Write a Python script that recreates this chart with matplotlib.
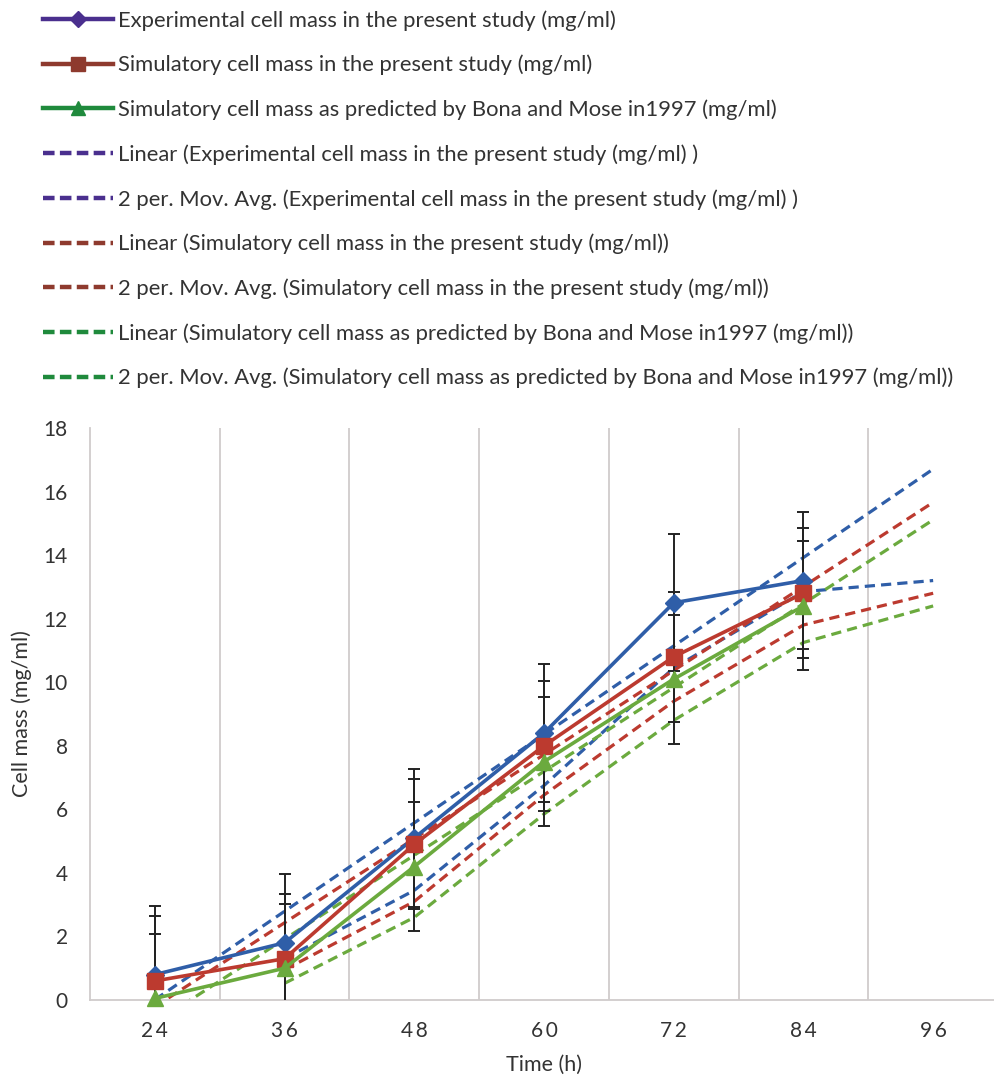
"""Cell mass over time: experiment vs. simulations, with Excel-style trendlines."""

import matplotlib

matplotlib.use("Agg")
import matplotlib.pyplot as plt
import numpy as np
from matplotlib.lines import Line2D

plt.rcParams["font.family"] = ["Lato", "DejaVu Sans"]

hours = ["24", "36", "48", "60", "72", "84", "96"]

# measured / simulated points (no value at 96 h)
experimental = [0.8, 1.8, 5.1, 8.4, 12.5, 13.2]
simulatory = [0.6, 1.3, 4.9, 8.0, 10.8, 12.8]
bona_mose = [0.05, 1.0, 4.2, 7.5, 10.1, 12.4]

# standard-error bars, one value per series
err_experimental = 2.16
err_simulatory = 2.04
err_bona_mose = 2.03

labels = [
    "Experimental cell mass in the present study (mg/ml)",
    "Simulatory cell mass in the present study (mg/ml)",
    "Simulatory cell mass as predicted by Bona and Mose in1997 (mg/ml)",
]

PLOT_COLORS = ["#2F5EA8", "#BC3A2F", "#6BAA3E"]
LEGEND_COLORS = ["#4A2F8E", "#8E3A2E", "#1F8A3C"]
MARKERS = ["D", "s", "^"]
MARKER_SIZES = [9.5, 11.5, 11.5]
GRID_COLOR = "#D0CCCC"
TEXT_COLOR = "#333333"


def moving_average_2(values, n_cats):
    """Excel 2-period moving average; the blank last category averages to the last point."""
    padded = list(values) + [np.nan] * (n_cats - len(values))
    out = []
    for i in range(1, n_cats):
        out.append(np.nanmean([padded[i - 1], padded[i]]))
    return np.arange(1, n_cats), np.array(out)


fig = plt.figure(figsize=(9.95, 10.78), dpi=100)
W, H = 995, 1078
ax = fig.add_axes([90 / W, (H - 1000) / H, 908 / W, 572 / H])

n_cats = len(hours)
x_all = np.arange(n_cats)
series = [
    (experimental, err_experimental),
    (simulatory, err_simulatory),
    (bona_mose, err_bona_mose),
]

dash = (3.2, 1.9)
for (vals, err), color in zip(series, PLOT_COLORS):
    x = np.arange(len(vals))
    slope, intercept = np.polyfit(x, vals, 1)
    ax.plot(x_all, slope * x_all + intercept, color=color, lw=2.3,
            dashes=dash, zorder=2)
    mx, my = moving_average_2(vals, n_cats)
    ax.plot(mx, my, color=color, lw=2.3, dashes=dash, zorder=2)

for (vals, err), color, mk, ms in zip(series, PLOT_COLORS, MARKERS, MARKER_SIZES):
    x = np.arange(len(vals))
    ax.errorbar(x, vals, yerr=err, fmt="none", ecolor="#222222", elinewidth=1.4,
                capsize=4.5, capthick=1.4, zorder=3)
    ax.plot(x, vals, color=color, lw=2.6, marker=mk, ms=ms, zorder=4, clip_on=False)

ax.set_xlim(-0.5, n_cats - 0.5)
ax.set_ylim(0, 18)
ax.set_yticks(np.arange(0, 19, 2))
ax.set_xticks(x_all)
ax.set_xticklabels(["\u2009".join(h) for h in hours])
ax.set_xticks(np.arange(0.5, n_cats - 0.5), minor=True)
ax.grid(True, axis="x", which="minor", color=GRID_COLOR, lw=1.3)
ax.tick_params(axis="both", which="both", length=0, labelsize=15, colors=TEXT_COLOR)
ax.tick_params(axis="x", pad=15)
ax.tick_params(axis="y", pad=16)
for side in ("top", "right"):
    ax.spines[side].set_visible(False)
for side in ("left", "bottom"):
    ax.spines[side].set_color(GRID_COLOR)
    ax.spines[side].set_linewidth(1.3)

ax.set_xlabel("Time (h)", fontsize=15.5, color=TEXT_COLOR, labelpad=10)
ax.set_ylabel("Cell mass (mg/ml)", fontsize=15.5, color=TEXT_COLOR, labelpad=8)

# legend (drawn with its own darker colours, as in the original figure)
handles = []
legend_labels = []
for color, mk, ms, lab in zip(LEGEND_COLORS, MARKERS, MARKER_SIZES, labels):
    handles.append(Line2D([], [], color=color, lw=3.2, marker=mk, ms=ms - 1))
    legend_labels.append(lab)
for color, lab in zip(LEGEND_COLORS, labels):
    close = " )" if color == LEGEND_COLORS[0] else ")"
    for prefix in ("Linear (", "2 per. Mov. Avg. ("):
        handles.append(Line2D([], [], color=color, lw=3.2, dashes=(2.6, 1.2)))
        legend_labels.append(prefix + lab + close)

fig.legend(handles, legend_labels, loc="upper left",
           bbox_to_anchor=(43 / W, 1 - 10 / H), frameon=False, fontsize=15.8,
           borderpad=0, borderaxespad=0, handlelength=3.2, handletextpad=0.22,
           labelspacing=1.1, labelcolor=TEXT_COLOR)

fig.savefig("out.png", dpi=100)
